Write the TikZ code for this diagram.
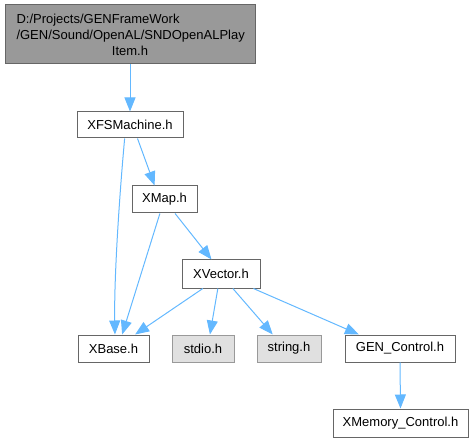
\documentclass[tikz,border=0pt]{standalone}
\usepackage{fontspec}
\setmainfont{Liberation Sans}
\usetikzlibrary{arrows.meta,calc}
\definecolor{edgec}{HTML}{63B8FF}
\definecolor{brd}{HTML}{666666}
\definecolor{rootfill}{HTML}{999999}
\definecolor{sysfill}{HTML}{E0E0E0}
\definecolor{sysbrd}{HTML}{999999}
\tikzset{
  box/.style={draw=brd, fill=white, line width=1pt, inner sep=0pt, font=\fontsize{13pt}{16pt}\selectfont, text=black},
  sysbox/.style={box, draw=sysbrd, fill=sysfill},
  dep/.style={draw=edgec, line width=1pt, -{Triangle[length=14pt,width=11pt]}},
}
\begin{document}
\begin{tikzpicture}[x=1pt,y=-1pt]
\useasboundingbox (0,0) rectangle (473,443);
\node[box, fill=rootfill, minimum width=250pt, minimum height=59pt, align=center] (root) at (130,34.5)
  {\makebox[227pt][l]{D:/Projects/GENFrameWork}\\\makebox[227pt][l]{/GEN/Sound/OpenAL/SNDOpenALPlay}\\Item.h};
\node[box, minimum width=106pt, minimum height=26pt] (xfs) at (130,125) {XFSMachine.h};
\node[box, minimum width=65pt, minimum height=27pt] (xmap) at (164.5,199.5) {XMap.h};
\node[box, minimum width=78pt, minimum height=28pt] (xvec) at (221,274) {XVector.h};
\node[box, minimum width=71pt, minimum height=27pt] (xbase) at (113.5,348.5) {XBase.h};
\node[sysbox, minimum width=62pt, minimum height=27pt] (stdio) at (203,348.5) {stdio.h};
\node[sysbox, minimum width=64pt, minimum height=27pt] (string) at (289,348.5) {string.h};
\node[box, minimum width=110pt, minimum height=27pt] (gen) at (400,348.5) {GEN\_Control.h};
\node[box, minimum width=135pt, minimum height=28pt] (xmem) at (400.5,423) {XMemory\_Control.h};

\draw[dep] (root.south) -- (xfs.north);
\draw[dep] ($(xfs.south west)!0.45!(xfs.south east)$) .. controls (119,200) and (114,280) .. ($(xbase.north west)!0.52!(xbase.north east)$);
\draw[dep] ($(xfs.south west)!0.57!(xfs.south east)$) -- ($(xmap.north west)!0.35!(xmap.north east)$);
\draw[dep] ($(xmap.south west)!0.43!(xmap.south east)$) -- ($(xbase.north west)!0.62!(xbase.north east)$);
\draw[dep] ($(xmap.south west)!0.66!(xmap.south east)$) -- ($(xvec.north west)!0.38!(xvec.north east)$);
\draw[dep] ($(xvec.south west)!0.27!(xvec.south east)$) -- ($(xbase.north west)!0.80!(xbase.north east)$);
\draw[dep] ($(xvec.south west)!0.46!(xvec.south east)$) -- ($(stdio.north west)!0.61!(stdio.north east)$);
\draw[dep] ($(xvec.south west)!0.65!(xvec.south east)$) -- ($(string.north west)!0.25!(string.north east)$);
\draw[dep] ($(xvec.south west)!0.91!(xvec.south east)$) -- ($(gen.north west)!0.13!(gen.north east)$);
\draw[dep] (gen.south) -- (xmem.north);
\end{tikzpicture}
\end{document}
